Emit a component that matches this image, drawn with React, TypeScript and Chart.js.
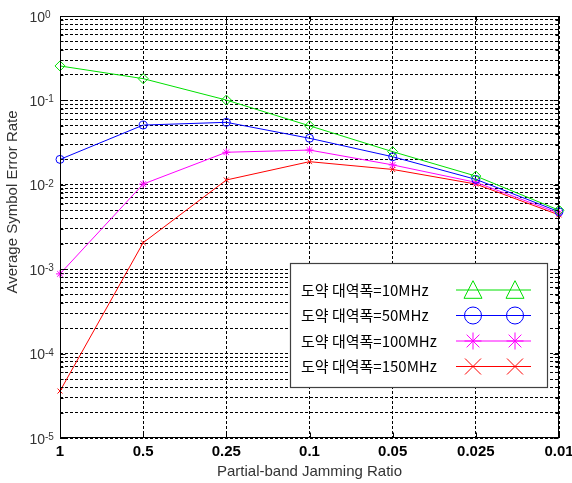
import React, { useEffect, useRef } from 'react';
import { Chart, registerables } from 'chart.js';

Chart.register(...registerables);

// ---- data ----
const categories = ['1', '0.5', '0.25', '0.1', '0.05', '0.025', '0.01'];
const hop10MHz = [0.256, 0.181, 0.101, 0.050, 0.0247, 0.0127, 0.0050];
const hop50MHz = [0.020, 0.051, 0.055, 0.0356, 0.0215, 0.0116, 0.0048];
const hop100MHz = [0.00088, 0.0102, 0.0243, 0.0258, 0.0172, 0.0107, 0.0046];
const hop150MHz = [0.000036, 0.00206, 0.0114, 0.0188, 0.0152, 0.0102, 0.0044];
const seriesLabels = ['도약 대역폭=10MHz', '도약 대역폭=50MHz', '도약 대역폭=100MHz', '도약 대역폭=150MHz'];
const seriesColors = ['#00e000', '#0000ff', '#ff00ff', '#ff0000'];
const yDecadeExponents = [0, -1, -2, -3, -4, -5];
const xTitle = 'Partial-band Jamming Ratio';
const yTitle = 'Average Symbol Error Rate';

type Marker = 'triangle' | 'circle' | 'star' | 'x';
const legendMarkers: Marker[] = ['triangle', 'circle', 'star', 'x'];

function drawMarker(ctx: CanvasRenderingContext2D, m: Marker, cx: number, cy: number) {
  ctx.beginPath();
  if (m === 'triangle') {
    ctx.moveTo(cx, cy - 9.3);
    ctx.lineTo(cx - 9, cy + 8.3);
    ctx.lineTo(cx + 9, cy + 8.3);
    ctx.closePath();
  } else if (m === 'circle') {
    ctx.arc(cx, cy, 8.5, 0, Math.PI * 2);
  } else if (m === 'star') {
    const r = 8.5;
    ctx.moveTo(cx, cy - r); ctx.lineTo(cx, cy + r);
    ctx.moveTo(cx - r, cy); ctx.lineTo(cx + r, cy);
    const d = r * 0.75;
    ctx.moveTo(cx - d, cy - d); ctx.lineTo(cx + d, cy + d);
    ctx.moveTo(cx - d, cy + d); ctx.lineTo(cx + d, cy - d);
  } else {
    const d = 8;
    ctx.moveTo(cx - d, cy - d); ctx.lineTo(cx + d, cy + d);
    ctx.moveTo(cx - d, cy + d); ctx.lineTo(cx + d, cy - d);
  }
  ctx.stroke();
}

const overlayPlugin = {
  id: 'overlay',
  afterDraw(chart: any) {
    const { ctx, chartArea: a, scales } = chart;
    const xs = scales.x;
    const ys = scales.y;
    ctx.save();
    ctx.setLineDash([]);
    const L = Math.round(a.left) + 0.5;
    const R = Math.round(a.right) - 0.5;
    const T = Math.round(a.top) + 0.5;
    const B = Math.round(a.bottom) - 0.5;

    // inward tick marks
    ctx.strokeStyle = '#000';
    ctx.lineWidth = 1;
    ctx.beginPath();
    ys.ticks.forEach((t: any) => {
      const py = Math.round(ys.getPixelForValue(t.value)) + 0.5;
      const len = t.major ? 5 : 3;
      ctx.moveTo(L, py); ctx.lineTo(L + len, py);
      ctx.moveTo(R, py); ctx.lineTo(R - len, py);
    });
    categories.forEach((_, i) => {
      const px = Math.round(xs.getPixelForValue(i)) + 0.5;
      ctx.moveTo(px, B); ctx.lineTo(px, B - 5);
      ctx.moveTo(px, T); ctx.lineTo(px, T + 5);
    });
    ctx.stroke();

    // frame
    ctx.strokeRect(L, T, R - L, B - T);

    // y tick labels with superscripts
    ctx.fillStyle = '#333';
    yDecadeExponents.forEach((e) => {
      const py = ys.getPixelForValue(Math.pow(10, e));
      ctx.font = '14px "Liberation Sans", Arial, sans-serif';
      ctx.textAlign = 'right';
      ctx.textBaseline = 'alphabetic';
      ctx.fillText('10', a.left - 15, py + 5.5);
      ctx.font = '10px "Liberation Sans", Arial, sans-serif';
      ctx.textAlign = 'left';
      ctx.fillText(String(e), a.left - 15, py + 2);
    });

    // x tick labels
    ctx.fillStyle = '#000';
    ctx.font = 'bold 15px "Liberation Sans", Arial, sans-serif';
    ctx.textAlign = 'center';
    ctx.textBaseline = 'middle';
    categories.forEach((c, i) => {
      ctx.fillText(c, xs.getPixelForValue(i), a.bottom + 14);
    });

    // axis titles
    ctx.fillStyle = '#333';
    ctx.font = '15px "Liberation Sans", Arial, sans-serif';
    ctx.fillText(xTitle, (a.left + a.right) / 2, a.bottom + 34);
    ctx.save();
    ctx.translate(13, (a.top + a.bottom) / 2 - 25);
    ctx.rotate(-Math.PI / 2);
    ctx.fillText(yTitle, 0, 0);
    ctx.restore();

    // legend
    const lx = Math.round(a.right) - 269;
    const ly = Math.round(a.bottom) - 175;
    const lw = 257;
    const lh = 124;
    ctx.fillStyle = '#fff';
    ctx.fillRect(lx, ly, lw, lh);
    ctx.strokeStyle = '#404040';
    ctx.lineWidth = 1.2;
    ctx.strokeRect(lx + 0.5, ly + 0.5, lw, lh);
    seriesLabels.forEach((label, i) => {
      const cy = ly + 27 + i * 25.5;
      ctx.fillStyle = '#000';
      ctx.font = '15px "Noto Sans CJK KR", sans-serif';
      ctx.textAlign = 'left';
      ctx.textBaseline = 'middle';
      ctx.fillText(label, lx + 11, cy);
      ctx.strokeStyle = seriesColors[i];
      ctx.lineWidth = 1;
      ctx.beginPath();
      ctx.moveTo(lx + 166, cy);
      ctx.lineTo(lx + 241, cy);
      ctx.stroke();
      drawMarker(ctx, legendMarkers[i], lx + 183, cy);
      drawMarker(ctx, legendMarkers[i], lx + 225, cy);
    });
    ctx.restore();
  },
};

export default function App() {
  const canvasRef = useRef<HTMLCanvasElement | null>(null);

  useEffect(() => {
    document.body.style.margin = '0';
    const canvas = canvasRef.current;
    if (!canvas) return;
    const mk = (label: string, data: number[], color: string, style: string, radius: number) => ({
      label,
      data,
      borderColor: color,
      backgroundColor: 'transparent',
      borderWidth: 1,
      pointStyle: style,
      pointRadius: radius,
      pointBorderColor: color,
      pointBackgroundColor: 'transparent',
      pointBorderWidth: 1,
      tension: 0,
      clip: false as any,
    });
    const chart = new Chart(canvas, {
      type: 'line',
      data: {
        labels: categories,
        datasets: [
          mk(seriesLabels[0], hop10MHz, seriesColors[0], 'rectRot', 5),
          mk(seriesLabels[1], hop50MHz, seriesColors[1], 'circle', 4),
          mk(seriesLabels[2], hop100MHz, seriesColors[2], 'star', 4),
          mk(seriesLabels[3], hop150MHz, seriesColors[3], 'crossRot', 3.5),
        ] as any,
      },
      options: {
        animation: false,
        responsive: false,
        devicePixelRatio: 1,
        layout: { padding: { left: 0, top: 16, right: 13, bottom: 0 } },
        plugins: { legend: { display: false }, tooltip: { enabled: false } },
        scales: {
          x: {
            type: 'category',
            offset: false,
            ticks: { display: false },
            grid: { color: '#000', lineWidth: 1, drawTicks: false },
            border: { display: false, dash: [3, 2] },
            afterFit: (s: any) => { s.height = 45; },
          },
          y: {
            type: 'logarithmic',
            min: 1e-5,
            max: 1,
            ticks: { display: false },
            grid: { color: '#000', lineWidth: 1, drawTicks: false },
            border: { display: false, dash: [3, 2] },
            afterFit: (s: any) => { s.width = 60; },
            afterBuildTicks: (s: any) => {
              const t: any[] = [];
              const exps = [...yDecadeExponents].sort((p, q) => p - q);
              exps.forEach((e) => {
                for (let m = 1; m <= 9; m++) {
                  const v = m * Math.pow(10, e);
                  if (v <= 1.0000001) t.push({ value: v, major: m === 1 });
                }
              });
              s.ticks = t;
            },
          },
        },
      },
      plugins: [overlayPlugin],
    } as any);
    return () => chart.destroy();
  }, []);

  return (
    <div style={{ width: 572, height: 483 }}>
      <canvas ref={canvasRef} width={572} height={483} style={{ display: 'block' }} />
    </div>
  );
}
